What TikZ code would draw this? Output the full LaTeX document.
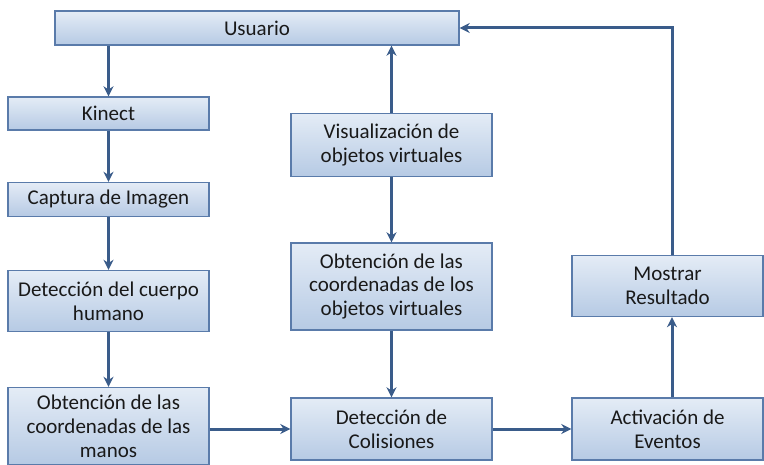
\documentclass[tikz,border=0pt]{standalone}
\usepackage{fontspec}
\setmainfont{Carlito}
\usepackage{tikz}
\usetikzlibrary{arrows.meta, positioning}
\definecolor{flowline}{HTML}{3A5C8A}
\definecolor{boxline}{HTML}{5A7BAA}
\definecolor{boxtop}{HTML}{E4ECF6}
\definecolor{boxbot}{HTML}{B6CAE4}

\begin{document}
\begin{tikzpicture}[x=1pt, y=-1pt, ->, >={Stealth[length=10pt, width=10pt]}, line width=3pt, flowline,
    stage/.style={draw=boxline, line width=1.4pt, top color=boxtop, bottom color=boxbot, align=center, text=black!90,
      font=\fontsize{21}{23.8}\selectfont, inner sep=0pt}]
    \useasboundingbox (0,0) rectangle (764,465);
    \node[stage, minimum width=404pt, minimum height=34pt] (usr) at (257,28) {Usuario};
    \node[stage, minimum width=201pt, minimum height=33pt] (kin) at (108.5,113.5) {Kinect};
    \node[stage, minimum width=201pt, minimum height=34pt] (cap) at (108.5,199.5) {Captura de Imagen};
    \node[stage, minimum width=201pt, minimum height=61pt] (cue) at (108.5,301) {Detección del cuerpo\\humano};
    \node[stage, minimum width=201pt, minimum height=77pt] (man) at (108.5,426) {Obtención de las\\coordenadas de las\\manos};
    \node[stage, minimum width=201pt, minimum height=63pt] (vis) at (391.5,145) {Visualización de\\objetos virtuales};
    \node[stage, minimum width=201pt, minimum height=87pt] (obj) at (391.5,286.5) {Obtención de las\\coordenadas de los\\objetos virtuales};
    \node[stage, minimum width=201pt, minimum height=62pt] (col) at (391.5,429) {Detección de\\Colisiones};
    \node[stage, minimum width=191pt, minimum height=62pt] (act) at (667.5,429) {Activación de\\Eventos};
    \node[stage, minimum width=191pt, minimum height=61pt] (res) at (667.5,286) {Mostrar\\Resultado};
    \draw (usr.south -| kin.north) -- (kin.north);
    \draw (kin) -- (cap); \draw (cap) -- (cue); \draw (cue) -- (man);
    \draw (col.west -| man.east) -- (col.west);
    \draw (col) -- (act);
    \draw ([xshift=4.5pt]act.north) -- ([xshift=4.5pt]res.south);
    \draw ([xshift=4.5pt]res.north) |- (usr.east);
    \draw (vis.north) -- (vis.north |- usr.south);
    \draw (vis) -- (obj); \draw (obj) -- (col);
  \end{tikzpicture}
\end{document}
